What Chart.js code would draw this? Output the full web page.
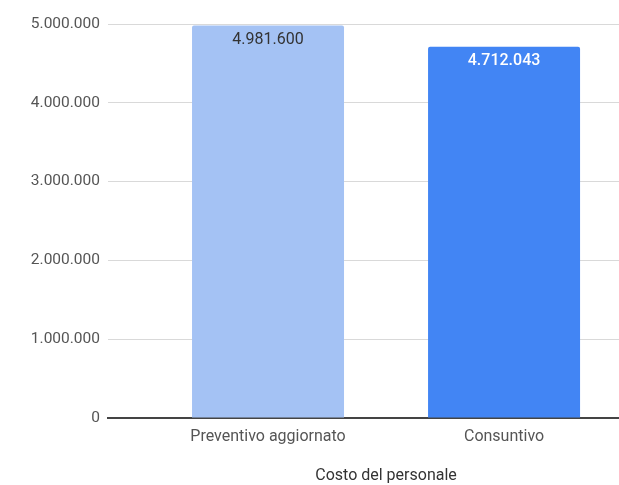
<!DOCTYPE html>
<html><head><meta charset="utf-8">
<script src="https://cdn.jsdelivr.net/npm/chart.js@4"></script>
<style>html,body{margin:0;padding:0;background:#fff;overflow:hidden}#wrap{width:619px;height:485px}</style>
</head><body><div id="wrap"><canvas id="c"></canvas></div>
<script>
const categories = ['Preventivo aggiornato', 'Consuntivo'];
const values = [4981600, 4712043];
const barColors = ['#a4c2f4', '#4285f4'];
const labelColors = ['#333333', '#ffffff'];
const labelWeights = ['400', '500'];
const yTicks = [0, 1000000, 2000000, 3000000, 4000000, 5000000];
const axisTitle = 'Costo del personale';

const fmtIt = v => String(v).replace(/\B(?=(\d{3})+(?!\d))/g, '.');
const FONT = 'Roboto, Arial, sans-serif';

const labelPlugin = {
  id: 'valueLabels',
  afterDatasetsDraw(chart) {
    const ctx = chart.ctx;
    const meta = chart.getDatasetMeta(0);
    ctx.save();
    ctx.textAlign = 'center';
    ctx.textBaseline = 'middle';
    meta.data.forEach((bar, i) => {
      ctx.font = labelWeights[i] + ' 16px ' + FONT;
      ctx.fillStyle = labelColors[i];
      ctx.fillText(fmtIt(values[i]), bar.x, bar.y + 14.5);
    });
    const xs = chart.scales.x;
    ctx.font = '400 16px ' + FONT;
    ctx.fillStyle = '#333333';
    ctx.fillText(axisTitle, xs.getPixelForValue(0.5), chart.height - 9);
    ctx.restore();
  }
};

new Chart(document.getElementById('c'), {
  type: 'bar',
  data: {
    datasets: [{
      data: values.map((v, i) => ({x: i, y: v})),
      backgroundColor: barColors,
      borderRadius: 2,
      borderSkipped: 'bottom',
      barPercentage: 0.644,
      categoryPercentage: 1
    }]
  },
  options: {
    responsive: true,
    maintainAspectRatio: false,
    animation: false,
    layout: {padding: {top: 24, right: 0, bottom: 0, left: 0}},
    plugins: {legend: {display: false}, tooltip: {enabled: false}},
    scales: {
      x: {
        type: 'linear',
        offset: false,
        min: -0.678,
        max: 1.487,
        afterBuildTicks: s => { s.ticks = [0, 1].map(v => ({value: v})); },
        afterFit: s => { s.height = 67; },
        grid: {display: false, drawTicks: false, offset: false},
        border: {display: true, color: '#444444', width: 2},
        ticks: {
          padding: 9,
          color: '#555555',
          font: {family: FONT, size: 16},
          callback: v => categories[v] ?? ''
        }
      },
      y: {
        min: 0,
        max: 5000000,
        afterBuildTicks: s => { s.ticks = yTicks.map(v => ({value: v})); },
        afterFit: s => { s.width = 108; },
        grid: {color: '#d9d9d9', lineWidth: 1, drawTicks: false},
        border: {display: false},
        ticks: {
          padding: 8,
          color: '#555555',
          font: {family: FONT, size: 15.5},
          callback: v => fmtIt(v)
        }
      }
    }
  },
  plugins: [labelPlugin]
});
</script></body></html>
